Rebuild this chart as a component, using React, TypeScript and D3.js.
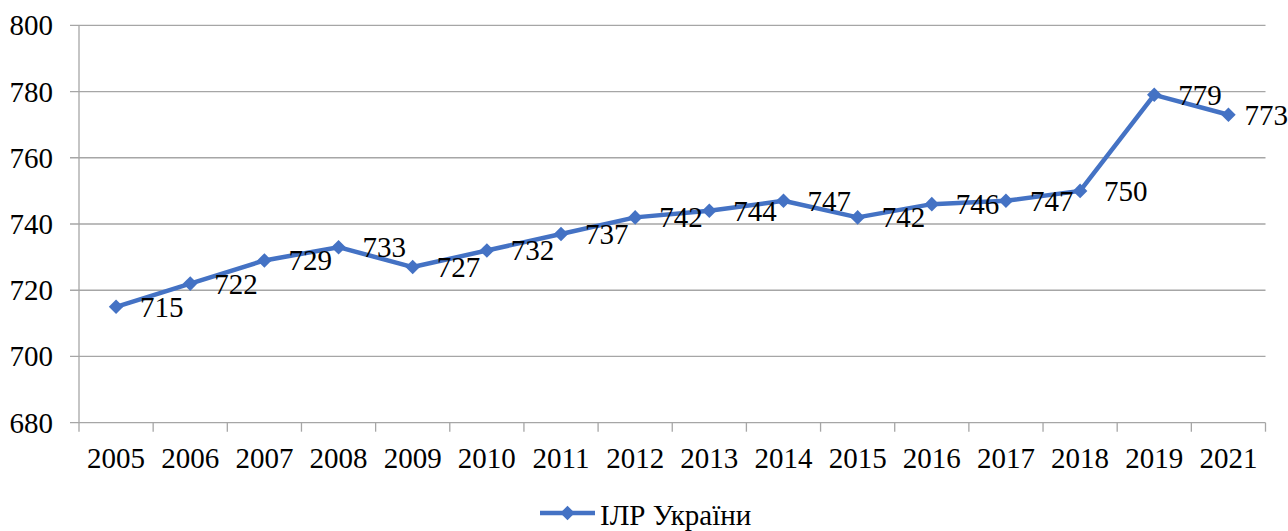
import React, { useEffect, useRef } from "react";
import * as d3 from "d3";

const years = ["2005", "2006", "2007", "2008", "2009", "2010", "2011", "2012", "2013", "2014", "2015", "2016", "2017", "2018", "2019", "2021"];
const ilrValues = [715, 722, 729, 733, 727, 732, 737, 742, 744, 747, 742, 746, 747, 750, 779, 773];
const yTicks = [680, 700, 720, 740, 760, 780, 800];
const seriesName = "ІЛР України";

export default function App() {
    const ref = useRef<SVGSVGElement | null>(null);

    useEffect(() => {
        const svg = d3.select(ref.current);
        svg.selectAll("*").remove();

        const width = 1288;
        const height = 531;
        const left = 79, right = 1265.5, top = 25.3, bottom = 422.7;
        const blue = "#4472C4";
        const grey = "#a6a6a6";
        const font = '"Liberation Serif"';
        const fs = "29px";

        const x = d3.scaleBand().domain(years).range([left, right]);
        const y = d3.scaleLinear().domain([680, 800]).range([bottom, top]);

        // horizontal gridlines + y labels
        svg.append("g").selectAll("line")
            .data(yTicks)
            .enter()
            .append("line")
            .attr("x1", left - 9)
            .attr("x2", right)
            .attr("y1", d => y(d))
            .attr("y2", d => y(d))
            .attr("stroke", grey)
            .attr("stroke-width", 1.3);

        svg.append("g").selectAll("text")
            .data(yTicks)
            .enter()
            .append("text")
            .text(d => d)
            .attr("x", 53)
            .attr("y", d => y(d) + 10)
            .attr("text-anchor", "end")
            .style("font-family", font)
            .style("font-size", fs);

        // left axis line
        svg.append("line")
            .attr("x1", left).attr("x2", left)
            .attr("y1", top).attr("y2", bottom + 9)
            .attr("stroke", grey)
            .attr("stroke-width", 1.3);

        // x tick marks at band edges
        const edges = years.map(d => x(d) as number).concat([right]);
        svg.append("g").selectAll("line")
            .data(edges.slice(1))
            .enter()
            .append("line")
            .attr("x1", d => d).attr("x2", d => d)
            .attr("y1", bottom).attr("y2", bottom + 9)
            .attr("stroke", grey)
            .attr("stroke-width", 1.3);

        const cx = (d: string) => (x(d) as number) + x.bandwidth() / 2;

        svg.append("g").selectAll("text")
            .data(years)
            .enter()
            .append("text")
            .text(d => d)
            .attr("x", d => cx(d))
            .attr("y", 468)
            .attr("text-anchor", "middle")
            .style("font-family", font)
            .style("font-size", fs);

        const points = years.map((yr, i) => ({ yr, v: ilrValues[i] }));

        const line = d3.line<{ yr: string; v: number }>()
            .x(d => cx(d.yr))
            .y(d => y(d.v));

        svg.append("path")
            .datum(points)
            .attr("d", line)
            .attr("fill", "none")
            .attr("stroke", blue)
            .attr("stroke-width", 4.5)
            .attr("stroke-linejoin", "round");

        const diamond = d3.symbol().type(d3.symbolDiamond2).size(135);

        svg.append("g").selectAll("path")
            .data(points)
            .enter()
            .append("path")
            .attr("d", diamond)
            .attr("transform", d => "translate(" + cx(d.yr) + "," + y(d.v) + ")")
            .attr("fill", blue);

        // data labels to the right, kept inside the picture
        svg.append("g").selectAll("text")
            .data(points)
            .enter()
            .append("text")
            .text(d => d.v)
            .attr("x", d => cx(d.yr) + 24)
            .attr("y", d => y(d.v) + 10)
            .style("font-family", font)
            .style("font-size", fs)
            .each(function () {
                const t = this as SVGTextElement;
                const w = t.getComputedTextLength();
                const x0 = +t.getAttribute("x")!;
                if (x0 + w > width) t.setAttribute("x", String(width - w));
            });

        // legend
        const lg = svg.append("g");
        lg.append("line")
            .attr("x1", 540).attr("x2", 595)
            .attr("y1", 513).attr("y2", 513)
            .attr("stroke", blue)
            .attr("stroke-width", 4.5);
        lg.append("path")
            .attr("d", diamond)
            .attr("transform", "translate(567.5,513)")
            .attr("fill", blue);
        lg.append("text")
            .text(seriesName)
            .attr("x", 600)
            .attr("y", 525)
            .style("font-family", font)
            .style("font-size", fs);

        svg.attr("width", width).attr("height", height);
    }, []);

    return (
        <svg ref={ref} width={1288} height={531}
            style={{ position: "absolute", left: 0, top: 0, background: "#fff" }} />
    );
}
